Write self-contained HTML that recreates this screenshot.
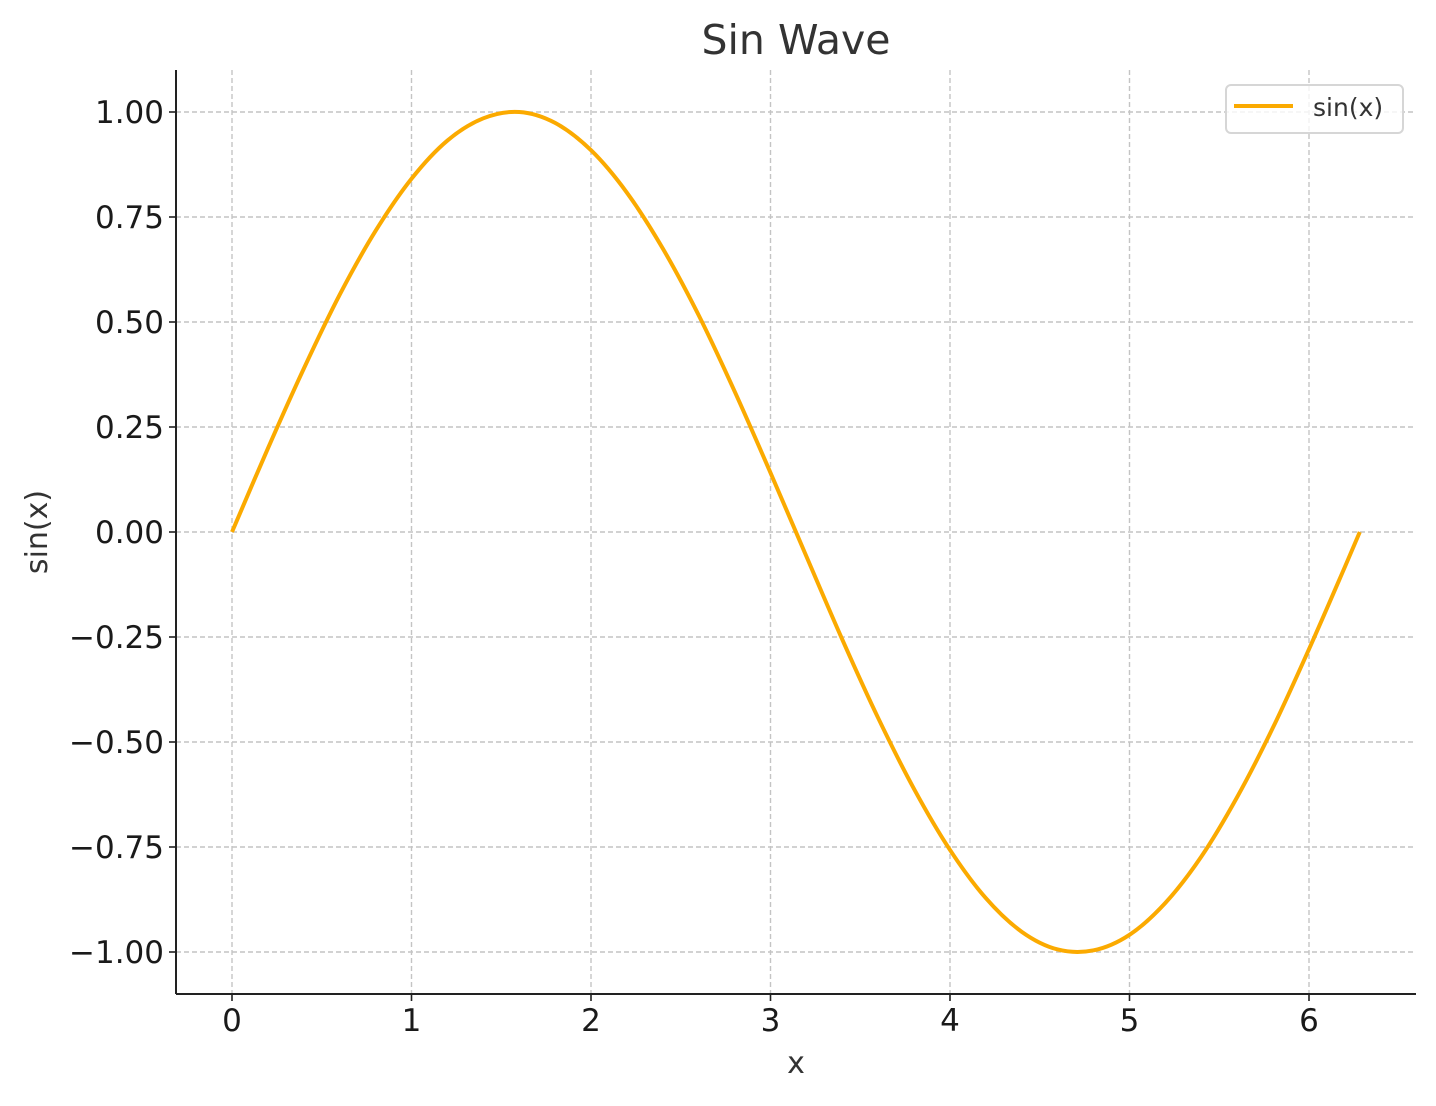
<!DOCTYPE html>
<html><head><meta charset="utf-8"><style>
body{margin:0;background:#fff}
svg text{font-family:"DejaVu Sans","Liberation Sans",sans-serif}
</style></head><body>
<svg id="chart" width="1436" height="1101" viewBox="0 0 1436 1101" xmlns="http://www.w3.org/2000/svg">
<rect width="1436" height="1101" fill="#fff"/>
<g id="grid"></g>
<g id="ticks"></g>
<path id="line" fill="none" stroke="#FBAA00" stroke-width="4" stroke-linejoin="round"/>
<line x1="176" y1="70" x2="176" y2="994" stroke="#222" stroke-width="2"/>
<line x1="176" y1="994" x2="1416" y2="994" stroke="#222" stroke-width="2"/>
<text x="796" y="54" font-size="41" fill="#333" text-anchor="middle">Sin Wave</text>
<text x="796" y="1073" font-size="30" fill="#333" text-anchor="middle">x</text>
<text transform="translate(47,532) rotate(-90)" font-size="30" fill="#333" text-anchor="middle">sin(x)</text>
<g>
<rect x="1226" y="85" width="177" height="48" rx="5" fill="#fff" fill-opacity="0.8" stroke="#d6d6d6" stroke-width="2"/>
<line x1="1234" y1="106" x2="1293" y2="106" stroke="#FBAA00" stroke-width="4"/>
<text x="1313" y="116" font-size="25" fill="#333">sin(x)</text>
</g>
</svg>
<script>
const xs=[0,0.2,0.4,0.6,0.8,1.0,1.2,1.4,1.6,1.8,2.0,2.2,2.4,2.6,2.8,3.0,3.2,3.4,3.6,3.8,4.0,4.2,4.4,4.6,4.8,5.0,5.2,5.4,5.6,5.8,6.0,6.2,6.283];
const ys=[0,0.199,0.389,0.565,0.717,0.841,0.932,0.985,1.0,0.974,0.909,0.808,0.675,0.516,0.335,0.141,-0.058,-0.256,-0.443,-0.612,-0.757,-0.872,-0.952,-0.994,-0.996,-0.959,-0.883,-0.773,-0.631,-0.465,-0.279,-0.083,0];
const xTicks=[0,1,2,3,4,5,6];
const yTicks=[1,0.75,0.5,0.25,0,-0.25,-0.5,-0.75,-1];
const yTickLabels=["1.00","0.75","0.50","0.25","0.00","\u22120.25","\u22120.50","\u22120.75","\u22121.00"];
const X=v=>232+v*179.5, Y=v=>532-v*420;
const NS="http://www.w3.org/2000/svg";
const grid=document.getElementById('grid'), ticks=document.getElementById('ticks');
function mk(tag,attrs,parent){const e=document.createElementNS(NS,tag);for(const k in attrs)e.setAttribute(k,attrs[k]);parent.appendChild(e);return e;}
xTicks.forEach(t=>{
  const g=mk('line',{x1:X(t),x2:X(t),y1:70,y2:994,stroke:'#c4c4c4','stroke-width':1.4,'stroke-dasharray':'5,3'},grid);
  
  
  const tk=mk('line',{x1:X(t),x2:X(t),y1:994,y2:1001,stroke:'#222','stroke-width':1.6},ticks);
  
  
  const l=mk('text',{x:X(t),y:1031,'font-size':31,fill:'#1a1a1a','text-anchor':'middle'},ticks);
  l.textContent=String(t);
  
  
});
yTicks.forEach((t,i)=>{
  const g=mk('line',{x1:176,x2:1416,y1:Y(t),y2:Y(t),stroke:'#c4c4c4','stroke-width':1.4,'stroke-dasharray':'5,3'},grid);
  
  
  const tk=mk('line',{x1:169,x2:176,y1:Y(t),y2:Y(t),stroke:'#222','stroke-width':1.6},ticks);
  
  
  const l=mk('text',{x:164,y:Y(t)+11,'font-size':31,fill:'#1a1a1a','text-anchor':'end'},ticks);
  l.textContent=yTickLabels[i];
  
  
});
const P=xs.map((x,i)=>[X(x),Y(ys[i])]);
let d='M'+P[0][0]+','+P[0][1];
for(let i=0;i<P.length-1;i++){
  const p0=P[Math.max(0,i-1)],p1=P[i],p2=P[i+1],p3=P[Math.min(P.length-1,i+2)];
  const c1=[p1[0]+(p2[0]-p0[0])/6,p1[1]+(p2[1]-p0[1])/6];
  const c2=[p2[0]-(p3[0]-p1[0])/6,p2[1]-(p3[1]-p1[1])/6];
  d+=' C'+c1+' '+c2+' '+p2;
}
document.getElementById('line').setAttribute('d',d);
</script>
</body></html>
